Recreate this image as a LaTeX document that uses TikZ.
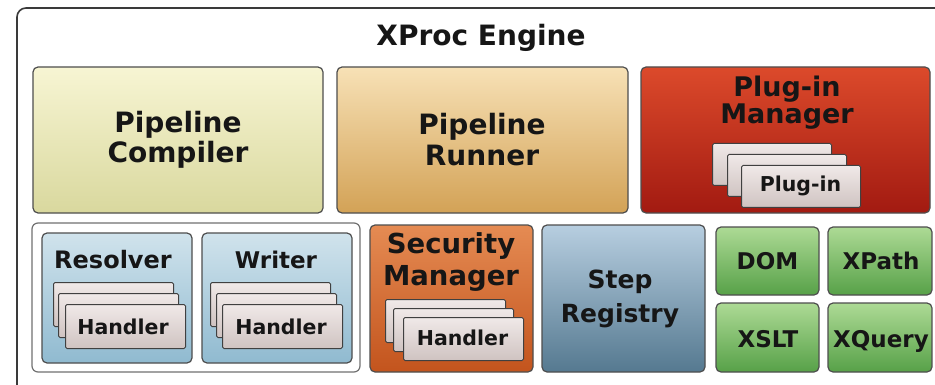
\documentclass[tikz,border=0pt]{standalone}
\usepackage{fontspec}
\setmainfont{DejaVu Sans}
\definecolor{ink}{HTML}{161616}
\definecolor{boxline}{HTML}{4E4E4E}
\definecolor{frameline}{HTML}{3A3A3A}
\definecolor{cardline}{HTML}{404040}
\definecolor{cardtop}{HTML}{F0E9E8}
\definecolor{cardbot}{HTML}{CFC3C1}
\definecolor{compTop}{HTML}{F7F5D3}
\definecolor{compBot}{HTML}{D9D89E}
\definecolor{runTop}{HTML}{F7E1B6}
\definecolor{runBot}{HTML}{D3A256}
\definecolor{plugTop}{HTML}{DC4A2B}
\definecolor{plugBot}{HTML}{A21A11}
\definecolor{resTop}{HTML}{D0E3EC}
\definecolor{resBot}{HTML}{90BAD0}
\definecolor{secTop}{HTML}{E58B53}
\definecolor{secBot}{HTML}{C3541D}
\definecolor{stepTop}{HTML}{B7CEE0}
\definecolor{stepBot}{HTML}{557990}
\definecolor{grnTop}{HTML}{ADDA95}
\definecolor{grnBot}{HTML}{57A148}
\usetikzlibrary{calc}
\tikzset{
  box/.style={draw=boxline, line width=1.2pt, rounded corners=5pt, inner sep=0pt},
  card/.style={draw=cardline, line width=1pt, rounded corners=1.5pt, top color=cardtop, bottom color=cardbot, inner sep=0pt, anchor=north west},
  lbl/.style={text=ink, anchor=base, inner sep=0pt},
  big/.style={lbl, font=\fontsize{28}{33}\selectfont\bfseries},
  mid/.style={lbl, font=\fontsize{25}{30}\selectfont\bfseries},
  med/.style={lbl, font=\fontsize{23}{27}\selectfont\bfseries},
  small/.style={lbl, font=\fontsize{20.5}{24}\selectfont\bfseries},
}
\newcommand\rbox[6]{\node[box,#6,minimum width={(#4-#2)*1pt},minimum height={(#5-#3)*1pt}] (#1) at ({(#2+#4)/2},{(#3+#5)/2}) {};}
\newcommand\cardat[5]{\node[card,minimum width={#4*1pt},minimum height={#5*1pt}] (#1) at (#2,#3) {};}
\begin{document}
\begin{tikzpicture}[x=1pt,y=-1pt]
\clip (0,0) rectangle (935,385);
\fill[white] (0,0) rectangle (935,385);
% outer frame
\draw[frameline, line width=1.6pt, rounded corners=9pt] (17,420) -- (17,8) -- (960,8);
\node[big] (title) at (481,46) {XProc Engine};
% top row
\rbox{comp}{33}{67}{323}{213}{top color=compTop, bottom color=compBot}
\rbox{run}{337}{67}{628}{213}{top color=runTop, bottom color=runBot}
\rbox{plug}{641}{67}{930}{213}{top color=plugTop, bottom color=plugBot}
\node[big] (compA) at (178,133) {Pipeline};
\node[big] (compB) at (178,163) {Compiler};
\node[big] (runA) at (482,135) {Pipeline};
\node[big] (runB) at (482,166) {Runner};
\node[big, font=\fontsize{27}{32}\selectfont\bfseries] (plugA) at (787,97) {Plug-in};
\node[big, font=\fontsize{27}{32}\selectfont\bfseries] (plugB) at (787,124) {Manager};
\cardat{pc1}{712}{143}{119}{42}
\cardat{pc2}{727}{154}{119}{42}
\cardat{pc3}{741}{165}{119}{42}
\node[small] (pct) at (800.5,192) {Plug-in};
% bottom row: group
\rbox{grp}{32}{223}{360}{372}{fill=white, draw=boxline!80, rounded corners=6pt}
\rbox{res}{42}{233}{192}{363}{top color=resTop, bottom color=resBot}
\rbox{wri}{202}{233}{352}{363}{top color=resTop, bottom color=resBot}
\node[med, font=\fontsize{24}{28}\selectfont\bfseries] (rest) at (113,268) {Resolver};
\node[med] (writ) at (276,268) {Writer};
\cardat{rc1}{53}{282}{120}{44}
\cardat{rc2}{58}{293}{120}{44}
\cardat{rc3}{65}{304}{120}{44}
\node[small] (rct) at (123,334.5) {Handler};
\cardat{wc1}{210}{282}{120}{44}
\cardat{wc2}{216}{293}{120}{44}
\cardat{wc3}{222}{304}{120}{44}
\node[small] (wct) at (281,334.5) {Handler};
% security manager
\rbox{sec}{370}{225}{533}{372}{top color=secTop, bottom color=secBot}
\node[big, font=\fontsize{27.5}{32}\selectfont\bfseries] (secA) at (451,253) {Security};
\node[big, font=\fontsize{27.5}{32}\selectfont\bfseries] (secB) at (451,285) {Manager};
\cardat{sc1}{385}{299}{120}{43}
\cardat{sc2}{393}{308}{120}{43}
\cardat{sc3}{403}{317}{120}{43}
\node[small] (sct) at (462.5,345) {Handler};
% step registry
\rbox{step}{542}{225}{705}{372}{top color=stepTop, bottom color=stepBot}
\node[mid] (stepA) at (620,288) {Step};
\node[mid] (stepB) at (620,322) {Registry};
% green boxes
\rbox{dom}{716}{227}{819}{295}{top color=grnTop, bottom color=grnBot}
\rbox{xpath}{828}{227}{932}{295}{top color=grnTop, bottom color=grnBot}
\rbox{xslt}{716}{303}{819}{372}{top color=grnTop, bottom color=grnBot}
\rbox{xquery}{828}{303}{932}{372}{top color=grnTop, bottom color=grnBot}
\node[med] (domt) at (767.5,269) {DOM};
\node[med] (xpatht) at (881,269) {XPath};
\node[med] (xsltt) at (768,347) {XSLT};
\node[med] (xqueryt) at (881,347) {XQuery};
\end{tikzpicture}
\end{document}
